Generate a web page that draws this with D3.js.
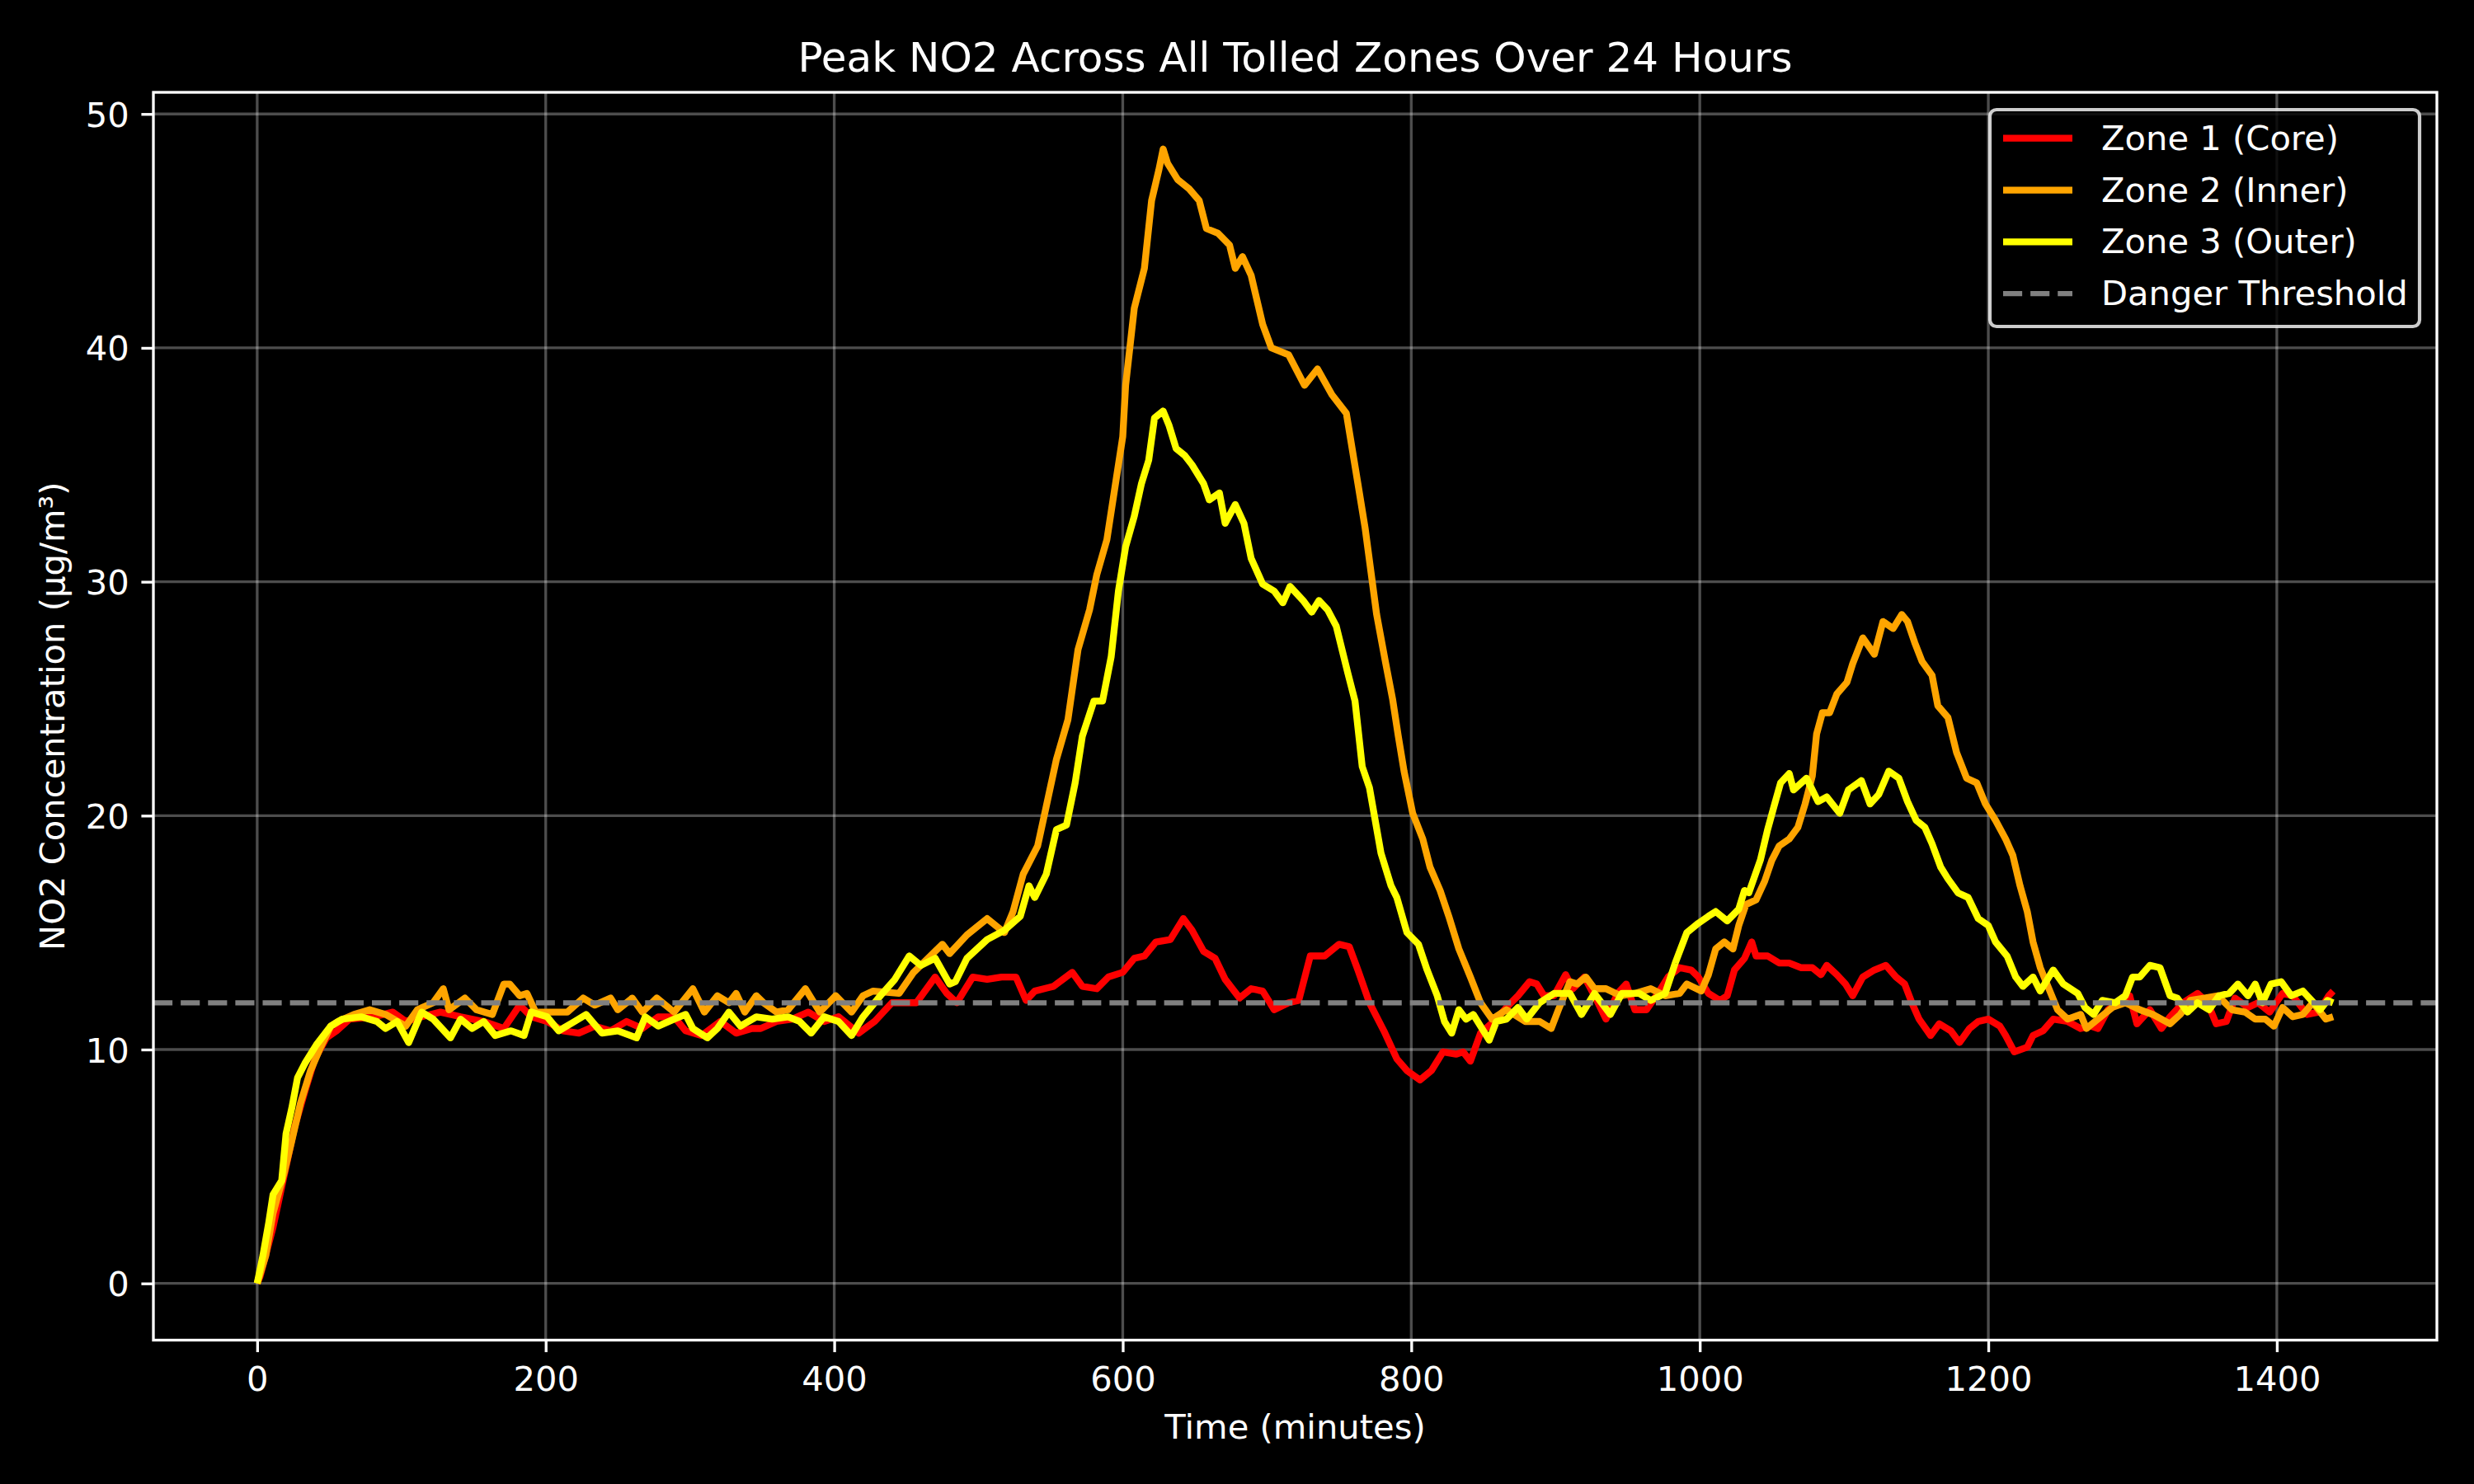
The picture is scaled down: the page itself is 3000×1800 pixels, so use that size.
<!DOCTYPE html>
<html>
<head>
<meta charset="utf-8">
<script src="https://cdn.jsdelivr.net/npm/d3@7"></script>
<style>
  html, body { margin: 0; padding: 0; background: #000; }
  svg { display: block; font-family: "DejaVu Sans", sans-serif; }
</style>
</head>
<body>
<svg id="chart" width="3000" height="1800"></svg>
<script>
// ---------------- DATA (minute, NO2 µg/m³) ----------------
const zone1Core = [[0,0],[2,0.3],[11,2.4],[19,4.7],[26,6.7],[33,8.2],[40,9.6],[48,10.5],[55,10.8],[64,11.3],[81,11.4],[94,11.6],[103,11.2],[114,11.4],[127,11.6],[141,11.4],[157,11.2],[171,10.9],[182,11.9],[190,11.4],[201,11.2],[212,10.8],[223,10.7],[234,11.0],[245,10.8],[256,11.2],[267,10.9],[278,11.4],[289,11.4],[297,10.8],[308,10.6],[321,11.2],[332,10.7],[343,10.9],[349,10.9],[360,11.2],[371,11.3],[382,11.6],[393,11.2],[403,11.4],[417,10.7],[428,11.2],[440,12.0],[457,12.0],[470,13.1],[478,12.4],[485,12.0],[496,13.1],[506,13.0],[516,13.1],[526,13.1],[533,12.1],[539,12.5],[552,12.7],[565,13.3],[572,12.7],[582,12.6],[590,13.1],[600,13.3],[608,13.9],[615,14.0],[623,14.6],[633,14.7],[642,15.6],[648,15.1],[656,14.2],[664,13.9],[671,13.0],[681,12.2],[689,12.6],[697,12.5],[705,11.7],[715,12.0],[722,12.1],[730,14.0],[740,14.0],[750,14.5],[757,14.4],[763,13.4],[771,12.0],[781,10.8],[790,9.6],[797,9.1],[806,8.7],[814,9.1],[822,9.9],[831,9.8],[836,9.9],[841,9.5],[848,10.7],[859,11.3],[866,11.8],[874,12.3],[882,12.9],[887,12.8],[892,12.3],[899,12.3],[907,13.2],[912,12.6],[920,13.1],[927,12.3],[935,11.3],[943,12.4],[949,12.8],[955,11.7],[963,11.7],[971,12.4],[978,13.1],[986,13.5],[994,13.4],[999,13.1],[1006,12.4],[1014,12.1],[1019,12.3],[1024,13.4],[1031,13.9],[1036,14.6],[1039,14.0],[1047,14.0],[1055,13.7],[1062,13.7],[1070,13.5],[1078,13.5],[1084,13.2],[1088,13.6],[1095,13.2],[1101,12.8],[1106,12.3],[1113,13.1],[1121,13.4],[1129,13.6],[1136,13.1],[1142,12.8],[1147,12.0],[1152,11.3],[1160,10.6],[1166,11.1],[1174,10.8],[1180,10.3],[1187,10.9],[1193,11.2],[1200,11.3],[1208,11.0],[1212,10.6],[1218,9.9],[1227,10.1],[1231,10.6],[1238,10.8],[1245,11.3],[1255,11.2],[1264,10.9],[1271,11.0],[1276,10.9],[1283,11.7],[1290,12.0],[1298,12.3],[1303,11.1],[1312,11.7],[1320,10.9],[1326,11.4],[1335,12.0],[1345,12.4],[1352,12.0],[1358,11.1],[1365,11.2],[1371,12.2],[1380,11.8],[1387,12.0],[1395,11.6],[1404,12.4],[1411,12.3],[1421,11.5],[1429,11.6],[1436,12.3],[1439,12.5]];

const zone2Inner = [[0,0],[6,1.2],[11,3.0],[19,4.8],[24,6.1],[30,7.7],[37,9.1],[44,10.1],[51,11.0],[56,11.2],[67,11.5],[78,11.7],[89,11.5],[103,11.0],[111,11.7],[122,12.0],[129,12.6],[133,11.7],[144,12.2],[152,11.7],[163,11.5],[171,12.8],[175,12.8],[182,12.3],[187,12.4],[193,11.6],[207,11.6],[215,11.6],[226,12.2],[234,11.9],[245,12.2],[250,11.7],[260,12.2],[267,11.6],[277,12.2],[289,11.6],[302,12.6],[310,11.6],[319,12.3],[327,12.0],[332,12.4],[338,11.6],[346,12.3],[351,12.0],[360,11.6],[368,11.7],[380,12.6],[390,11.6],[401,12.3],[412,11.6],[420,12.3],[427,12.5],[445,12.4],[455,13.3],[475,14.5],[480,14.1],[492,14.9],[506,15.6],[518,15.0],[524,15.9],[531,17.5],[541,18.7],[547,20.4],[554,22.4],[562,24.1],[569,27.1],[577,28.8],[582,30.3],[589,31.8],[595,34.2],[600,36.2],[602,38.4],[608,41.7],[615,43.4],[620,46.3],[625,47.6],[628,48.5],[631,47.9],[638,47.2],[646,46.8],[653,46.3],[658,45.1],[666,44.9],[674,44.4],[678,43.4],[683,43.9],[689,43.1],[697,41.0],[703,40.0],[715,39.7],[726,38.4],[735,39.1],[745,38.0],[755,37.2],[763,34.2],[768,32.3],[776,28.6],[782,26.6],[787,25.0],[791,23.4],[795,21.9],[801,20.1],[808,19.0],[813,17.8],[820,16.8],[826,15.7],[833,14.3],[841,13.1],[848,12.0],[856,11.3],[866,11.7],[879,11.2],[889,11.2],[897,10.9],[902,11.7],[910,12.9],[915,12.8],[921,13.1],[927,12.6],[935,12.6],[945,12.3],[955,12.4],[966,12.6],[976,12.3],[986,12.4],[991,12.8],[1001,12.5],[1006,13.2],[1011,14.3],[1017,14.6],[1023,14.3],[1027,15.3],[1032,16.2],[1039,16.4],[1045,17.2],[1050,18.1],[1055,18.7],[1062,19.0],[1068,19.5],[1073,20.5],[1078,21.7],[1081,23.5],[1085,24.4],[1090,24.4],[1095,25.2],[1102,25.7],[1106,26.5],[1113,27.6],[1121,26.9],[1127,28.3],[1134,28.0],[1140,28.6],[1144,28.3],[1149,27.4],[1154,26.6],[1161,26.0],[1165,24.7],[1172,24.2],[1178,22.7],[1185,21.6],[1192,21.4],[1198,20.5],[1205,19.8],[1212,19.0],[1217,18.3],[1222,17.0],[1227,15.9],[1231,14.6],[1236,13.5],[1242,12.6],[1248,11.7],[1255,11.3],[1264,11.5],[1268,10.9],[1276,11.3],[1286,11.8],[1295,12.0],[1305,11.7],[1314,11.5],[1326,11.1],[1333,11.5],[1340,12.1],[1350,12.2],[1359,12.3],[1369,11.7],[1378,11.6],[1385,11.3],[1392,11.3],[1398,11.0],[1404,11.8],[1411,11.4],[1418,11.5],[1425,12.0],[1434,11.3],[1439,11.4]];

const zone3Outer = [[0,0],[4,1.2],[8,2.6],[11,3.8],[17,4.4],[20,6.4],[24,7.5],[28,8.8],[33,9.4],[41,10.2],[51,11.0],[59,11.3],[72,11.4],[83,11.2],[89,10.9],[97,11.2],[105,10.3],[114,11.6],[122,11.3],[134,10.5],[141,11.3],[149,10.9],[157,11.2],[165,10.6],[176,10.8],[185,10.6],[190,11.6],[201,11.4],[209,10.8],[220,11.2],[228,11.5],[239,10.7],[250,10.8],[263,10.5],[269,11.4],[278,11.0],[289,11.3],[297,11.5],[302,10.9],[312,10.5],[319,10.9],[327,11.6],[335,11.0],[346,11.4],[357,11.3],[368,11.4],[376,11.2],[384,10.7],[393,11.4],[403,11.2],[412,10.6],[420,11.4],[432,12.3],[442,13.0],[452,14.0],[460,13.6],[470,13.9],[480,12.8],[484,12.9],[492,13.9],[506,14.7],[518,15.1],[529,15.7],[535,17.0],[539,16.5],[547,17.5],[554,19.4],[561,19.6],[567,21.4],[572,23.4],[580,24.9],[586,24.9],[592,26.8],[597,29.6],[602,31.5],[608,32.8],[613,34.2],[618,35.2],[622,37.0],[628,37.3],[632,36.7],[637,35.7],[643,35.4],[648,35.0],[656,34.2],[660,33.5],[667,33.8],[671,32.5],[678,33.3],[684,32.5],[689,31.0],[697,29.9],[705,29.6],[711,29.1],[716,29.8],[725,29.2],[731,28.7],[736,29.2],[742,28.8],[748,28.1],[756,26.1],[761,24.9],[766,22.1],[771,21.2],[779,18.4],[786,17.0],[790,16.5],[797,15.0],[805,14.5],[811,13.4],[818,12.3],[823,11.2],[828,10.7],[833,11.7],[838,11.3],[843,11.5],[848,11.0],[854,10.4],[859,11.2],[866,11.3],[874,11.8],[880,11.3],[889,12.0],[899,12.4],[910,12.4],[918,11.5],[927,12.4],[938,11.5],[946,12.4],[958,12.4],[966,12.1],[976,12.4],[983,13.7],[991,15.0],[999,15.4],[1006,15.7],[1011,15.9],[1019,15.5],[1027,16.0],[1031,16.8],[1034,16.7],[1042,18.1],[1047,19.4],[1051,20.3],[1056,21.4],[1062,21.8],[1065,21.1],[1074,21.6],[1082,20.6],[1088,20.8],[1097,20.1],[1103,21.1],[1112,21.5],[1118,20.5],[1124,20.9],[1131,21.9],[1138,21.6],[1144,20.6],[1150,19.8],[1156,19.5],[1161,18.8],[1167,17.8],[1172,17.3],[1179,16.7],[1186,16.5],[1193,15.6],[1200,15.3],[1205,14.6],[1213,14.0],[1219,13.1],[1224,12.7],[1231,13.1],[1236,12.5],[1245,13.4],[1252,12.8],[1262,12.4],[1267,11.8],[1273,11.5],[1279,12.1],[1288,12.0],[1295,12.3],[1300,13.1],[1305,13.1],[1312,13.6],[1319,13.5],[1326,12.3],[1331,12.2],[1338,11.6],[1345,12.0],[1353,11.7],[1360,12.3],[1367,12.4],[1373,12.8],[1380,12.3],[1385,12.8],[1390,12.0],[1396,12.8],[1403,12.9],[1410,12.3],[1418,12.5],[1424,12.1],[1430,11.7],[1435,12.1],[1439,12.0]];

const dangerThreshold = 12;
const seriesNames = ["Zone 1 (Core)", "Zone 2 (Inner)", "Zone 3 (Outer)"];
const seriesColors = ["#ff0000", "#ffa500", "#ffff00"];
const thresholdName = "Danger Threshold";
const xTicks = [0, 200, 400, 600, 800, 1000, 1200, 1400];
const yTicks = [0, 10, 20, 30, 40, 50];
const titleText = "Peak NO2 Across All Tolled Zones Over 24 Hours";
const xLabelText = "Time (minutes)";
const yLabelText = "NO2 Concentration (μg/m³)";

// ---------------- LAYOUT ----------------
const W = 3000, H = 1800;
const L = 186, R = 2955, T = 112, B = 1625.5;
const pt = 300 / 72;
const fs = 10 * pt;

const allSeries = [zone1Core, zone2Inner, zone3Outer];
const xMin = 0, xMax = 1439;
const allY = allSeries.flat().map(d => d[1]);
const yMin = Math.min(...allY), yMax = Math.max(...allY);
const xPad = (xMax - xMin) * 0.05, yPad = (yMax - yMin) * 0.05;

const x = d3.scaleLinear().domain([xMin - xPad, xMax + xPad]).range([L, R]);
const y = d3.scaleLinear().domain([yMin - yPad, yMax + yPad]).range([B, T]);

const svg = d3.select("#chart");
svg.append("rect").attr("width", W).attr("height", H).attr("fill", "#000");

// grid
const grid = svg.append("g");
grid.selectAll("line.vg").data(xTicks).enter().append("line")
  .attr("x1", d => x(d)).attr("x2", d => x(d)).attr("y1", T).attr("y2", B)
  .attr("stroke", "#fff").attr("stroke-opacity", 0.3).attr("stroke-width", 0.8 * pt);
grid.selectAll("line.hg").data(yTicks).enter().append("line")
  .attr("y1", d => y(d)).attr("y2", d => y(d)).attr("x1", L).attr("x2", R)
  .attr("stroke", "#fff").attr("stroke-opacity", 0.3).attr("stroke-width", 0.8 * pt);

// lines
const line = d3.line().x(d => x(d[0])).y(d => y(d[1]));
const plot = svg.append("g");
allSeries.forEach((s, i) => {
  plot.append("path").datum(s).attr("d", line)
    .attr("fill", "none").attr("stroke", seriesColors[i])
    .attr("stroke-width", 2 * pt).attr("stroke-linejoin", "round").attr("stroke-linecap", "butt");
});
plot.append("path").datum([[xMin - xPad, dangerThreshold], [xMax + xPad, dangerThreshold]])
  .attr("d", line).attr("fill", "none").attr("stroke", "#808080")
  .attr("stroke-width", 1.5 * pt).attr("stroke-dasharray", `${5.55 * pt},${2.4 * pt}`);

// axes
const xAxis = d3.axisBottom(x).tickValues(xTicks).tickFormat(d3.format("d"))
  .tickSize(3.5 * pt).tickPadding(17).tickSizeOuter(0);
const yAxis = d3.axisLeft(y).tickValues(yTicks).tickFormat(d3.format("d"))
  .tickSize(3.5 * pt).tickPadding(3.5 * pt).tickSizeOuter(0);
const gx = svg.append("g").attr("transform", `translate(0,${B})`).call(xAxis);
const gy = svg.append("g").attr("transform", `translate(${L},0)`).call(yAxis);
[gx, gy].forEach(g => {
  g.select(".domain").remove();
  g.selectAll(".tick line").attr("stroke", "#fff").attr("stroke-width", 0.8 * pt);
  g.selectAll(".tick text").attr("fill", "#fff").attr("font-size", fs)
    .attr("font-family", "DejaVu Sans");
});
gy.selectAll(".tick text").attr("dy", "0.36em");

// frame
svg.append("rect").attr("x", L).attr("y", T).attr("width", R - L).attr("height", B - T)
  .attr("fill", "none").attr("stroke", "#fff").attr("stroke-width", 0.8 * pt);

// title & labels
svg.append("text").attr("x", (L + R) / 2).attr("y", 87).attr("text-anchor", "middle")
  .attr("fill", "#fff").attr("font-size", 12 * pt).text(titleText);
svg.append("text").attr("x", (L + R) / 2).attr("y", 1745).attr("text-anchor", "middle")
  .attr("fill", "#fff").attr("font-size", fs).text(xLabelText);
svg.append("text").attr("transform", `translate(78,${(T + B) / 2}) rotate(-90)`)
  .attr("text-anchor", "middle").attr("fill", "#fff").attr("font-size", fs).text(yLabelText);

// legend
const lg = svg.append("g");
const lx0 = 2413, ly0 = 133, lx1 = 2934, ly1 = 396;
lg.append("rect").attr("x", lx0).attr("y", ly0).attr("width", lx1 - lx0).attr("height", ly1 - ly0)
  .attr("rx", 8).attr("ry", 8).attr("fill", "#000").attr("fill-opacity", 0.8)
  .attr("stroke", "#fff").attr("stroke-opacity", 0.8).attr("stroke-width", 1 * pt);
const legendItems = seriesNames.map((n, i) => ({ name: n, color: seriesColors[i], dash: null, w: 2 * pt }))
  .concat([{ name: thresholdName, color: "#808080", dash: `${5.55 * pt},${2.4 * pt}`, w: 1.5 * pt }]);
const rowY = [167.7, 230.7, 293.3, 356];
legendItems.forEach((it, i) => {
  const ly = rowY[i];
  const ln = lg.append("line").attr("x1", 2429).attr("x2", 2513).attr("y1", ly).attr("y2", ly)
    .attr("stroke", it.color).attr("stroke-width", it.w);
  if (it.dash) ln.attr("stroke-dasharray", it.dash);
  lg.append("text").attr("x", 2548).attr("y", ly + 14).attr("fill", "#fff")
    .attr("font-size", fs).text(it.name);
});
</script>
</body>
</html>
